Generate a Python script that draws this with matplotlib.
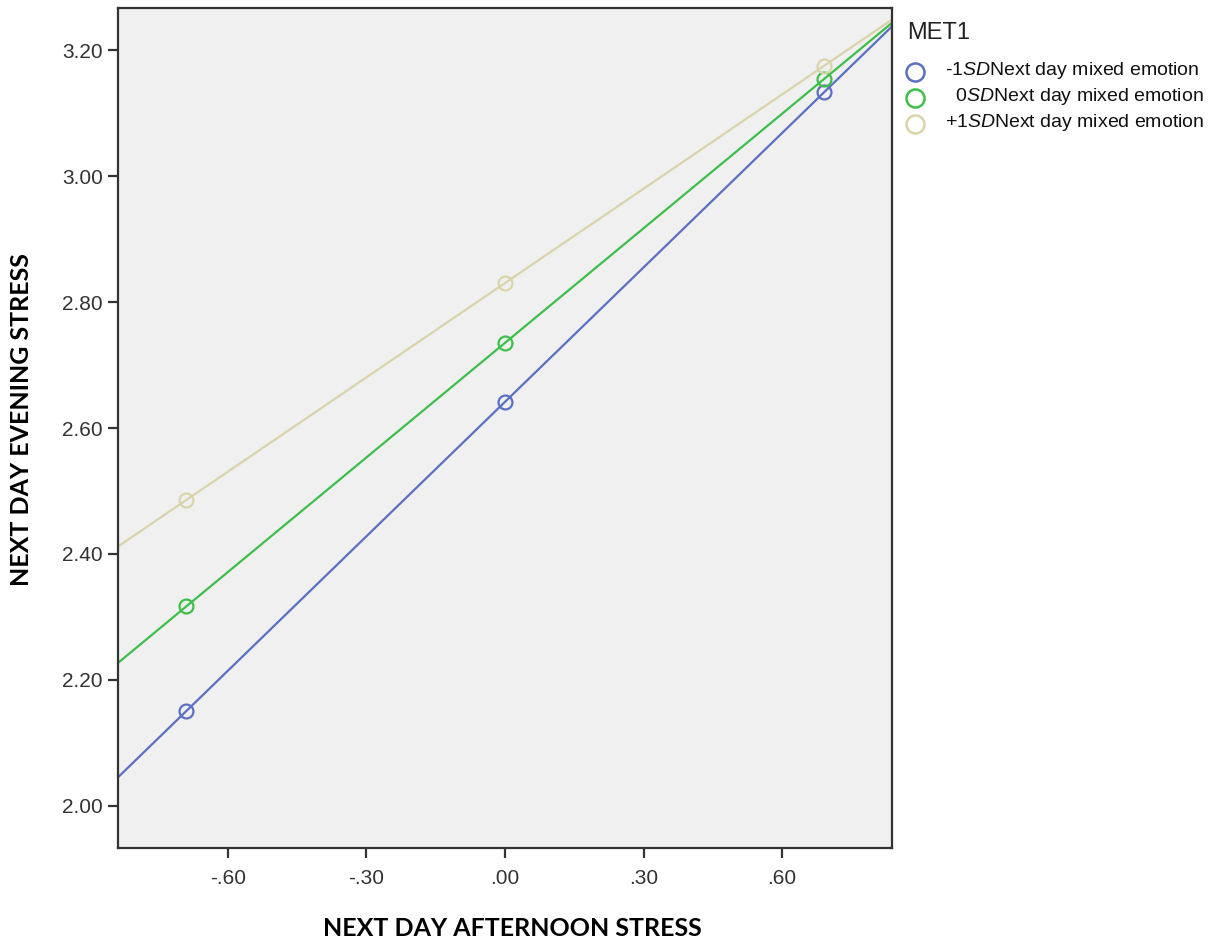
import numpy as np
import matplotlib.pyplot as plt
from matplotlib.lines import Line2D

plt.rcParams['font.family'] = ['Liberation Sans', 'DejaVu Sans']
plt.rcParams['mathtext.fontset'] = 'custom'
plt.rcParams['mathtext.it'] = 'Liberation Sans:italic'
plt.rcParams['mathtext.rm'] = 'Liberation Sans'

# afternoon stress levels (-1SD, 0, +1SD) and predicted evening stress
x_points = [-0.69, 0.0, 0.69]
y_low = [2.151, 2.641, 3.133]
y_mid = [2.317, 2.735, 3.154]
y_high = [2.486, 2.830, 3.175]

series_labels = ["-1$\\mathit{SD}$Next day mixed emotion",
                 "  0$\\mathit{SD}$Next day mixed emotion",
                 "+1$\\mathit{SD}$Next day mixed emotion"]
colors = ["#5b70c2", "#3dbf4a", "#d9d4aa"]

x_ticks = [-0.60, -0.30, 0.00, 0.30, 0.60]
y_ticks = [2.00, 2.20, 2.40, 2.60, 2.80, 3.00, 3.20]
XLIM = (-0.838, 0.838)
YLIM = (1.933, 3.267)

W, H = 1218, 947
fig = plt.figure(figsize=(W / 100, H / 100), dpi=100)
ax = fig.add_axes([0.0969, 0.1045, 0.6355, 0.887])
ax.set_facecolor("#f0f0f0")

xs = np.array(XLIM)
for ys, color in zip((y_low, y_mid, y_high), colors):
    slope, icpt = np.polyfit(x_points, ys, 1)
    ax.plot(xs, slope * xs + icpt, color=color, lw=1.6, zorder=2)
    ax.plot(x_points, ys, linestyle="none", marker="o", ms=10, mfc="none",
            mec=color, mew=1.6, zorder=3)

ax.set_xlim(*XLIM)
ax.set_ylim(*YLIM)
ax.set_xticks(x_ticks)
ax.set_xticklabels([("%.2f" % v).replace("0.", ".") for v in x_ticks])
ax.set_yticks(y_ticks)
ax.set_yticklabels(["%.2f" % v for v in y_ticks])
ax.tick_params(direction="out", length=7, width=1.6, labelsize=15,
               colors="#333333", pad=4)
ax.tick_params(axis="x", pad=8)
for sp in ax.spines.values():
    sp.set_color("#333333")
    sp.set_linewidth(1.6)

ax.set_xlabel("NEXT DAY AFTERNOON STRESS", fontsize=18, fontweight="bold",
              family=["Lato", "DejaVu Sans"])
ax.set_ylabel("NEXT DAY EVENING STRESS", fontsize=18, fontweight="bold",
              family=["Lato", "DejaVu Sans"])
ax.xaxis.set_label_coords(0.509, -0.082)
ax.yaxis.set_label_coords(-0.110, 0.51)

# legend, placed by hand to the right of the plot
fig.text(907 / W, 1 - 33 / H, "MET1", fontsize=17, color="#222222",
         va="center", ha="left")
for i, (color, label) in enumerate(zip(colors, series_labels)):
    py = 1 - (72 + 26 * i) / H
    fig.add_artist(Line2D([915 / W], [py], transform=fig.transFigure,
                          linestyle="none", marker="o", ms=13, mfc="none",
                          mec=color, mew=1.8))
    fig.text(945 / W, py + 1.5 / H, label, fontsize=14, color="#111111",
             va="center", ha="left")

fig.savefig("out.png", dpi=100)
